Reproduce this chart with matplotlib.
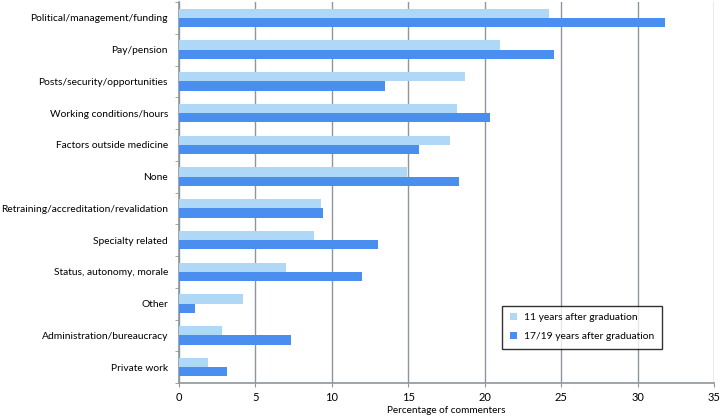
import numpy as np
import matplotlib.pyplot as plt
from matplotlib.ticker import FixedLocator

categories = ['Political/management/funding', 'Pay/pension', 'Posts/security/opportunities',
              'Working conditions/hours', 'Factors outside medicine', 'None',
              'Retraining/accreditation/revalidation', 'Specialty related',
              'Status, autonomy, morale', 'Other', 'Administration/bureaucracy', 'Private work']
yr11 = [24.2, 21.0, 18.7, 18.2, 17.7, 14.9, 9.3, 8.85, 7.0, 4.2, 2.8, 1.88]
yr1719 = [31.8, 24.5, 13.5, 20.35, 15.7, 18.3, 9.4, 13.0, 12.0, 1.05, 7.33, 3.12]

light = '#afd7f6'
dark = '#4a8ff0'
grey = '#8c969c'

plt.rcParams['font.family'] = ['Lato', 'DejaVu Sans']
fig = plt.figure(figsize=(7.2, 4.17), dpi=100)
ax = fig.add_axes([179/720, 1 - 383/417, 535/720, 381/417])

y = np.arange(len(categories))
h = 0.29
ax.barh(y - h/2, yr11, height=h, color=light, label='11 years after graduation', zorder=3)
ax.barh(y + h/2, yr1719, height=h, color=dark, label='17/19 years after graduation', zorder=3)

ax.set_ylim(len(categories) - 0.5, -0.5)
ax.set_xlim(0, 35)
ax.set_xticks(range(0, 36, 5))
ax.set_yticks(y)
ax.set_yticklabels(categories, fontsize=7.4)
ax.yaxis.set_minor_locator(FixedLocator(np.arange(-0.5, len(categories), 1)))
ax.tick_params(axis='y', which='major', length=0, pad=8)
ax.tick_params(axis='y', which='minor', length=3, color=grey)
ax.tick_params(axis='x', length=3, color=grey, labelsize=8)
ax.xaxis.grid(True, color=grey, linewidth=1, zorder=0)

for s in ['top', 'right']:
    ax.spines[s].set_visible(False)
for s in ['left', 'bottom']:
    ax.spines[s].set_color(grey)
    ax.spines[s].set_linewidth(1.2)

ax.set_xlabel('Percentage of commenters', fontsize=7.2, labelpad=2)

leg = ax.legend(loc='lower left', bbox_to_anchor=(0.604, 0.089), fontsize=7.4,
                frameon=True, fancybox=False, handlelength=0.7, handleheight=0.7,
                borderpad=0.75, labelspacing=0.95, handletextpad=0.7, borderaxespad=0)
leg.get_frame().set_edgecolor('black')
leg.get_frame().set_linewidth(1)

fig.savefig('out.png', dpi=100)
